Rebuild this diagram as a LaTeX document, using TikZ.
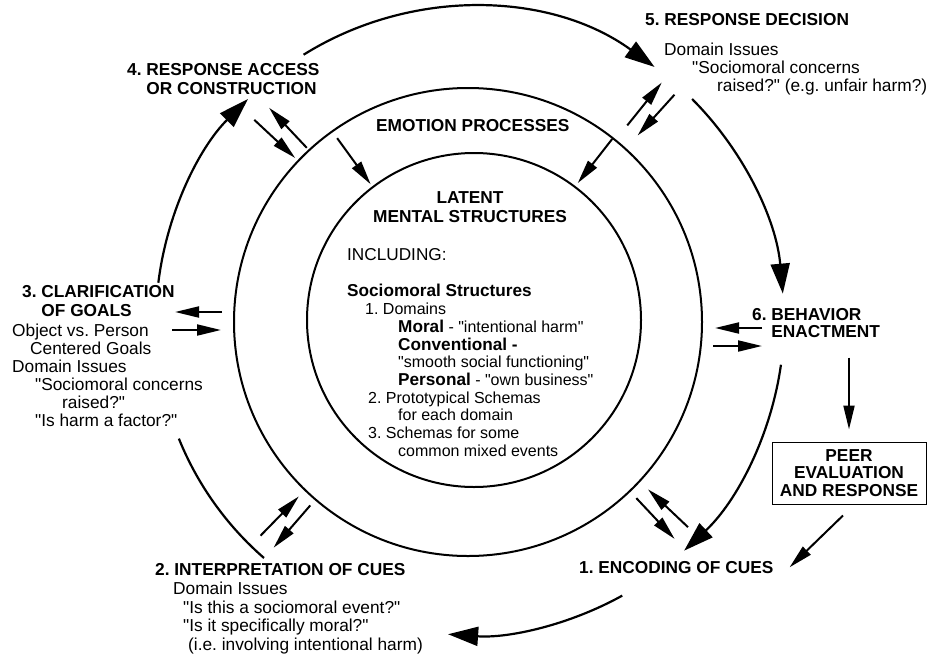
\documentclass[tikz,border=0pt]{standalone}
\usepackage{fontspec}
\setmainfont{Liberation Sans}[Ligatures=TeXOff]
\usetikzlibrary{arrows.meta,calc}
\frenchspacing

\newcommand{\bigbf}[1]{{\bfseries\fontsize{17.2}{17.7}\selectfont #1}}

\tikzset{
  ring/.style={line width=2pt},
  cycline/.style={line width=2.2pt},
  cycarrow/.style={cycline, -{Triangle[length=30pt,width=19pt]}},
  pairarrow/.style={line width=2pt, -{Triangle[length=24pt,width=11pt]}},
  stage/.style={inner sep=0pt, anchor=north west, align=left, font=\bfseries\fontsize{17.3}{19}\selectfont},
  issues/.style={inner sep=0pt, anchor=north west, align=left, font=\fontsize{17.3}{18}\selectfont},
  peerbox/.style={draw, line width=1pt, inner sep=0pt, minimum width=154pt, minimum height=62pt, align=center, font=\bfseries\fontsize{17.3}{17.5}\selectfont}
}

\begin{document}
\begin{tikzpicture}[x=1pt,y=1pt]
\useasboundingbox (0,0) rectangle (932,-659);
\coordinate (C) at (470,-321);
\coordinate (Cin) at (474,-320);
\coordinate (Cmid) at (468,-322);
\draw[ring] (Cin) circle[radius=167];
\draw[ring] (Cmid) circle[radius=234];

\node[stage] (emotion) at (376,-119) {EMOTION PROCESSES};
\node[stage, anchor=north, align=center] (latent) at (470,-191) {LATENT\\MENTAL STRUCTURES};
\node[issues, font=\fontsize{16}{17.7}\selectfont] (including) at (347,-248) {{\fontsize{17.2}{17.7}\selectfont INCLUDING:}\\[19pt]
  \bigbf{Sociomoral Structures}\\
  \hspace*{18pt}1. Domains\\
  \hspace*{51pt}\bigbf{Moral} - "intentional harm"\\
  \hspace*{51pt}\bigbf{Conventional -}\\
  \hspace*{51pt}"smooth social functioning"\\
  \hspace*{51pt}\bigbf{Personal} - "own business"\\
  \hspace*{21pt}2. Prototypical Schemas\\
  \hspace*{51pt}for each domain\\
  \hspace*{21pt}3. Schemas for some\\
  \hspace*{51pt}common mixed events};

\node[stage] (encoding) at (579,-561) {1. ENCODING OF CUES};
\node[stage] (interp) at (155,-563) {2. INTERPRETATION OF CUES};
\node[issues, font=\fontsize{17.3}{18.6}\selectfont] (interp-q) at (173,-582) {Domain Issues\\
  \hspace*{10pt}"Is this a sociomoral event?"\\
  \hspace*{10pt}"Is it specifically moral?"\\
  \hspace*{15pt}(i.e. involving intentional harm)};
\node[stage] (clarif) at (22,-285) {3. CLARIFICATION\\\phantom{3. }OF GOALS};
\node[issues] (clarif-q) at (12,-324) {Object vs. Person\\
  \hspace*{18pt}Centered Goals\\
  Domain Issues\\
  \hspace*{23pt}"Sociomoral concerns\\
  \hspace*{50pt}raised?"\\
  \hspace*{23pt}"Is harm a factor?"};
\node[stage] (access) at (127,-63) {4. RESPONSE ACCESS\\\phantom{4. }OR CONSTRUCTION};
\node[stage] (decision) at (645,-13) {5. RESPONSE DECISION};
\node[issues] (decision-q) at (664,-43) {Domain Issues\\
  \hspace*{28pt}"Sociomoral concerns\\
  \hspace*{53pt}raised?" (e.g. unfair harm?)};
\node[stage, font=\bfseries\fontsize{17.3}{17}\selectfont] (enact) at (752,-308) {6. BEHAVIOR\\\phantom{6. }ENACTMENT};
\node[peerbox] (peer) at (849,-473) {PEER\\EVALUATION\\AND RESPONSE};

\draw[cycarrow] ($(C)+(122:314)$) arc[start angle=122, end angle=54, radius=314];
\draw[cycarrow] ($(C)+(45:314)$) arc[start angle=45, end angle=5, radius=314];
\draw[cycarrow] ($(C)+(-8:314)$) arc[start angle=-8, end angle=-47, radius=314];
\draw[cycarrow] ($(C)+(-61:314)$) arc[start angle=-61, end angle=-94, radius=314];
\draw[cycline] ($(C)+(-131:314)$) arc[start angle=-131, end angle=-158, radius=314];
\draw[cycarrow] ($(C)+(173:314)$) arc[start angle=173, end angle=135, radius=314];

\foreach \a/\ra/\rb in {137/295/239, 133.3/238/293, 126/226/169, 51.2/251/306, 47.9/305/250,
  52/231/175, -46.8/243/299, -43.4/300/245, -134.3/300/245, -130.9/244/300}
  \draw[pairarrow] ($(C)+(\a:\ra)$) -- ($(C)+(\a:\rb)$);
\foreach \xa/\xb/\y in {-248/-295/9, -298/-249/-9, 292/245/-7, 243/292/-25}
  \draw[pairarrow] ($(C)+(\xa,\y)$) -- ($(C)+(\xb,\y)$);

\draw[pairarrow] ([yshift=-20pt]enact.south -| peer.north) -- ([yshift=12pt]peer.north);
\draw[pairarrow] ([xshift=-6pt,yshift=-11pt]peer.south) -- ([xshift=16pt]encoding.east);
\end{tikzpicture}
\end{document}
